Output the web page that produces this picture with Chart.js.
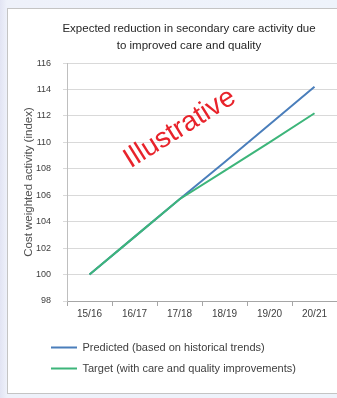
<!DOCTYPE html>
<html>
<head>
<meta charset="utf-8">
<script src="https://cdn.jsdelivr.net/npm/chart.js@4"></script>
<style>
  html, body { margin: 0; padding: 0; width: 337px; height: 398px; overflow: hidden; }
  body { background: linear-gradient(to right, #e2e4f3 0px, #eef1fa 7px, #eef3fb 100%); position: relative; }
  #frame { position: absolute; left: 7px; top: 8px; width: 340px; height: 386px; background: #fff; border: 1px solid #c4c4c4; box-sizing: border-box; }
  #chart { position: absolute; left: 0; top: 0; }
</style>
</head>
<body>
<div id="frame"></div>
<canvas id="chart" width="337" height="398"></canvas>
<script>
const years = ['15/16', '16/17', '17/18', '18/19', '19/20', '20/21'];
const predicted = [100, 102.85, 105.7, 108.5, 111.35, 114.2];
const target = [100, 102.85, 105.7, 107.85, 110.0, 112.2];
const yTicks = [98, 100, 102, 104, 106, 108, 110, 112, 114, 116];

const font = "'Liberation Sans', Arial, sans-serif";

// red "Illustrative" stamp across the plot
const stamp = {
  id: 'stamp',
  afterLayout(chart) {
    // let the y axis box reach further left so its labels are not clipped
    chart.scales.y.left = 20;
  },
  afterDatasetsDraw(chart) {
    const ctx = chart.ctx;
    ctx.save();
    ctx.translate(184, 135);
    ctx.rotate(-32 * Math.PI / 180);
    ctx.font = '28px ' + font;
    ctx.fillStyle = '#e8232b';
    ctx.textAlign = 'center';
    ctx.textBaseline = 'alphabetic';
    ctx.fillText('Illustrative', 0, 0);
    ctx.restore();
  }
};

new Chart(document.getElementById('chart'), {
  type: 'line',
  data: {
    labels: years,
    datasets: [
      {
        label: 'Target (with care and quality improvements)',
        data: target,
        borderColor: '#3db57a',
        backgroundColor: '#3db57a',
        borderWidth: 2,
        pointRadius: 0,
        tension: 0
      },
      {
        label: 'Predicted (based on historical trends)',
        data: predicted,
        borderColor: '#4a7ebb',
        backgroundColor: '#4a7ebb',
        borderWidth: 2,
        pointRadius: 0,
        tension: 0
      }
    ]
  },
  options: {
    responsive: false,
    animation: false,
    devicePixelRatio: 1,
    layout: { padding: { left: 41, right: 0, top: 0, bottom: 14 } },
    plugins: {
      title: {
        display: true,
        text: ['Expected reduction in secondary care activity due', 'to improved care and quality'],
        color: '#262626',
        font: { family: font, size: 11.5, weight: 'normal', lineHeight: 1.48 },
        padding: { top: 20, bottom: 9 }
      },
      legend: {
        position: 'bottom',
        align: 'start',
        reverse: true,
        labels: {
          boxWidth: 26,
          boxHeight: 0,
          padding: 10,
          color: '#404040',
          font: { family: font, size: 11 }
        }
      },
      tooltip: { enabled: false }
    },
    scales: {
      x: {
        offset: true,
        grid: { offset: true, drawOnChartArea: false, tickLength: 5, color: '#a6a6a6' },
        border: { color: '#a6a6a6' },
        ticks: { color: '#404040', padding: 2, font: { family: font, size: 10 } },
        afterFit(scale) { scale.height = 31; }
      },
      y: {
        min: 98,
        max: 116,
        afterBuildTicks(scale) { scale.ticks = yTicks.map(v => ({ value: v })); },
        grid: { color: '#d9d9d9', tickLength: 4 },
        border: { color: '#bfbfbf' },
        ticks: { color: '#404040', padding: 12, font: { family: font, size: 9 } },
        title: {
          display: true,
          text: 'Cost weighted activity (index)',
          color: '#505050',
          font: { family: font, size: 11.5 },
          padding: { top: 2, bottom: 0 }
        },
        afterFit(scale) { scale.width = 26; }
      }
    }
  },
  plugins: [stamp]
});
</script>
</body>
</html>
